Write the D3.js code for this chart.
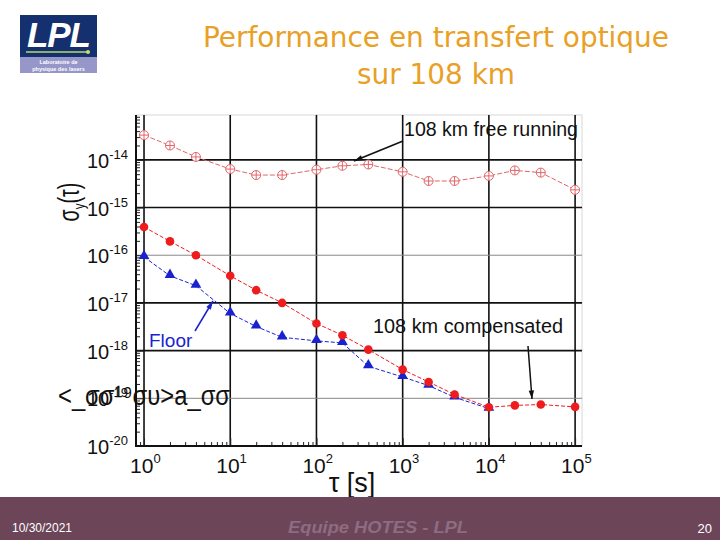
<!DOCTYPE html>
<html>
<head>
<meta charset="utf-8">
<script src="https://cdn.jsdelivr.net/npm/d3@7"></script>
<style>
  body { margin: 0; background: #fff; }
  svg { display: block; font-family: "Liberation Sans", Arial, sans-serif; }
</style>
</head>
<body>
<div id="chart"></div>
<script>
// data (tau in s, sigma_y)
const tauFree = [1, 2, 4, 10, 20, 40, 100, 200, 400, 1000, 2000, 4000, 1e4, 2e4, 4e4, 1e5];
const sigmaFree = [3.3e-14, 2.0e-14, 1.15e-14, 6.4e-15, 4.8e-15, 4.8e-15, 6.2e-15, 7.5e-15, 8.0e-15,
  5.6e-15, 3.6e-15, 3.6e-15, 4.6e-15, 6.0e-15, 5.4e-15, 2.35e-15];

const tauComp = [1, 2, 4, 10, 20, 40, 100, 200, 400, 1000, 2000, 4000, 1e4, 2e4, 4e4, 1e5];
const sigmaComp = [3.9e-16, 1.95e-16, 1.0e-16, 3.7e-17, 1.85e-17, 1.0e-17, 3.7e-18, 2.1e-18, 1.05e-18,
  4.0e-19, 2.2e-19, 1.2e-19, 6.5e-20, 7.1e-20, 7.4e-20, 6.6e-20];

const tauFloor = [1, 2, 4, 10, 20, 40, 100, 200, 400, 1000, 2000, 4000, 1e4];
const sigmaFloor = [0.92e-16, 3.7e-17, 2.3e-17, 6.0e-18, 3.2e-18, 1.9e-18, 1.6e-18, 1.45e-18,
  4.7e-19, 2.8e-19, 1.85e-19, 1.05e-19, 6.1e-20];

const xDecades = [0, 1, 2, 3, 4, 5];
const yDecades = [-20, -19, -18, -17, -16, -15, -14];
const grayGrid = [-16, -19];

const W = 720, H = 540;
const svg = d3.select("#chart").append("svg")
  .attr("width", W).attr("height", H);

// ---- header: logo + title
const logo = svg.append("g");
logo.append("rect").attr("x", 20).attr("y", 15).attr("width", 77).attr("height", 58).attr("fill", "#14306e");
logo.append("rect").attr("x", 20).attr("y", 57).attr("width", 77).attr("height", 16).attr("fill", "#9696c8");
logo.append("text").attr("x", 27).attr("y", 47)
  .attr("fill", "#fff").style("font-size", "35px").style("font-weight", "bold").style("font-style", "italic")
  .attr("textLength", 64).text("LPL");
logo.append("line").attr("x1", 26).attr("x2", 88).attr("y1", 52).attr("y2", 52)
  .attr("stroke", "#b8d86a").attr("stroke-width", 1.5);
logo.append("circle").attr("cx", 88).attr("cy", 52).attr("r", 2).attr("fill", "#c8e070");
logo.append("text").attr("x", 58.5).attr("y", 64).attr("text-anchor", "middle")
  .attr("fill", "#fff").style("font-size", "5.5px").style("font-weight", "bold").text("Laboratoire de");
logo.append("text").attr("x", 58.5).attr("y", 70.5).attr("text-anchor", "middle")
  .attr("fill", "#fff").style("font-size", "5.5px").style("font-weight", "bold").text("physique des lasers");

const titleColor = "#e8a025";
svg.append("text").attr("x", 436).attr("y", 47).attr("text-anchor", "middle")
  .attr("fill", titleColor).style("font-size", "28px").style("font-family", "'DejaVu Sans', Verdana, sans-serif")
  .attr("textLength", 466).attr("lengthAdjust", "spacingAndGlyphs")
  .text("Performance en transfert optique");
svg.append("text").attr("x", 436).attr("y", 84).attr("text-anchor", "middle")
  .attr("fill", titleColor).style("font-size", "28px").style("font-family", "'DejaVu Sans', Verdana, sans-serif")
  .attr("textLength", 158).attr("lengthAdjust", "spacingAndGlyphs")
  .text("sur 108 km");

// ---- plot
const pLeft = 136, pRight = 582, pTop = 115, pBottom = 446;
const x = d3.scaleLog().domain([Math.pow(10, -0.093), Math.pow(10, 5.08)]).range([pLeft, pRight]);
const y = d3.scaleLog().domain([1e-20, Math.pow(10, -13.06)]).range([pBottom, pTop]);

// frame
svg.append("rect").attr("x", pLeft).attr("y", pTop).attr("width", pRight - pLeft).attr("height", pBottom - pTop)
  .attr("fill", "none").attr("stroke", "#d8d8d8").attr("stroke-width", 1);

// grid
svg.append("g").selectAll("line").data(xDecades).join("line")
  .attr("x1", d => x(Math.pow(10, d))).attr("x2", d => x(Math.pow(10, d)))
  .attr("y1", pTop).attr("y2", pBottom)
  .attr("stroke", "#111").attr("stroke-width", 1.6);
svg.append("g").selectAll("line").data(yDecades.slice(1)).join("line")
  .attr("x1", pLeft).attr("x2", pRight)
  .attr("y1", d => y(Math.pow(10, d))).attr("y2", d => y(Math.pow(10, d)))
  .attr("stroke", d => grayGrid.includes(d) ? "#888" : "#111")
  .attr("stroke-width", d => grayGrid.includes(d) ? 1 : 1.6);

// axes with inward ticks
const isDecade = d => Math.abs(Math.log10(d) - Math.round(Math.log10(d))) < 1e-6;
const yAxis = d3.axisRight(y).tickSize(4).tickFormat("").ticks(40);
const yAx = svg.append("g").attr("transform", `translate(${pLeft},0)`).call(yAxis);
yAx.select(".domain").remove();
yAx.selectAll(".tick line").attr("x2", d => isDecade(d) ? 8 : 4).attr("stroke", "#222");
const xAxis = d3.axisTop(x).tickSize(4).tickFormat("").ticks(40);
const xAx = svg.append("g").attr("transform", `translate(0,${pBottom})`).call(xAxis);
xAx.select(".domain").remove();
xAx.selectAll(".tick line").attr("y2", d => isDecade(d) ? -8 : -4).attr("stroke", "#222");
svg.append("line").attr("x1", pLeft).attr("x2", pLeft).attr("y1", pTop).attr("y2", pBottom + 1)
  .attr("stroke", "#111").attr("stroke-width", 2);
svg.append("line").attr("x1", pLeft - 1).attr("x2", pRight).attr("y1", pBottom).attr("y2", pBottom)
  .attr("stroke", "#111").attr("stroke-width", 2);

// tick labels
const yLab = svg.append("g").selectAll("text").data(yDecades).join("text")
  .attr("x", 128).attr("y", d => y(Math.pow(10, d)) + 8)
  .attr("text-anchor", "end").attr("fill", "#111").style("font-size", "20px");
yLab.append("tspan").text("10");
yLab.append("tspan").attr("dy", -9).style("font-size", "13px").text(d => "-" + Math.abs(d));

const xLab = svg.append("g").selectAll("text").data(xDecades).join("text")
  .attr("x", d => x(Math.pow(10, d)) - 14).attr("y", 473)
  .attr("fill", "#111").style("font-size", "21px");
xLab.append("tspan").text("10");
xLab.append("tspan").attr("dy", -10).style("font-size", "13px").text(d => d);

// axis titles
svg.append("text").attr("x", 352).attr("y", 492).attr("text-anchor", "middle")
  .attr("fill", "#111").style("font-size", "27px").text("τ [s]");
const yt = svg.append("text").attr("transform", "translate(79,202) rotate(-90) scale(0.68,1)")
  .attr("text-anchor", "middle").attr("fill", "#111").style("font-size", "29px");
yt.append("tspan").text("σ");
yt.append("tspan").attr("dy", 6).style("font-size", "17px").text("y");
yt.append("tspan").attr("dy", -6).text("(τ)");

// garbled overlay text seen on the slide
svg.append("text").attr("x", 58).attr("y", 405).attr("fill", "#111")
  .style("font-size", "27px").attr("textLength", 172).attr("lengthAdjust", "spacingAndGlyphs")
  .text("<_σσ¹⁹συ>a_σσ");

// series
const freeColor = "#e0666a", compColor = "#ee1c1c", floorColor = "#1a22d0";
const line = d3.line().x(d => x(d[0])).y(d => y(d[1]));
const freePts = d3.zip(tauFree, sigmaFree);
const compPts = d3.zip(tauComp, sigmaComp);
const floorPts = d3.zip(tauFloor, sigmaFloor);

svg.append("path").datum(freePts).attr("d", line).attr("fill", "none")
  .attr("stroke", freeColor).attr("stroke-width", 1).attr("stroke-dasharray", "5,2");
svg.append("path").datum(floorPts).attr("d", line).attr("fill", "none")
  .attr("stroke", floorColor).attr("stroke-width", 1).attr("stroke-dasharray", "4,2");
svg.append("path").datum(compPts).attr("d", line).attr("fill", "none")
  .attr("stroke", compColor).attr("stroke-width", 1).attr("stroke-dasharray", "4,2");

// free running markers: circle with cross
const fr = svg.append("g").selectAll("g").data(freePts).join("g")
  .attr("transform", d => `translate(${x(d[0])},${y(d[1])})`)
  .attr("stroke", freeColor).attr("stroke-width", 1).attr("fill", "#fff");
fr.append("circle").attr("r", 4.5);
fr.append("line").attr("x1", -4.5).attr("x2", 4.5);
fr.append("line").attr("y1", -4.5).attr("y2", 4.5);

// floor triangles
svg.append("g").selectAll("path").data(floorPts).join("path")
  .attr("d", d3.symbol(d3.symbolTriangle, 50))
  .attr("transform", d => `translate(${x(d[0])},${y(d[1]) - 1})`)
  .attr("fill", floorColor);

// compensated dots
svg.append("g").selectAll("circle").data(compPts).join("circle")
  .attr("cx", d => x(d[0])).attr("cy", d => y(d[1])).attr("r", 4.3)
  .attr("fill", compColor);

// annotations
function arrow(x1, y1, x2, y2, color) {
  svg.append("line").attr("x1", x1).attr("y1", y1).attr("x2", x2).attr("y2", y2)
    .attr("stroke", color).attr("stroke-width", 1.5);
  const a = Math.atan2(y2 - y1, x2 - x1), L = 9, w = 0.3;
  svg.append("path")
    .attr("d", `M${x2},${y2}L${x2 - L * Math.cos(a - w)},${y2 - L * Math.sin(a - w)}L${x2 - L * Math.cos(a + w)},${y2 - L * Math.sin(a + w)}Z`)
    .attr("fill", color);
}
svg.append("text").attr("x", 404).attr("y", 136).attr("fill", "#111").style("font-size", "20px")
  .attr("textLength", 174).attr("lengthAdjust", "spacingAndGlyphs").text("108 km free running");
arrow(403, 141, 354, 161, "#111");
svg.append("text").attr("x", 373).attr("y", 333).attr("fill", "#111").style("font-size", "20px")
  .attr("textLength", 190).attr("lengthAdjust", "spacingAndGlyphs").text("108 km compensated");
arrow(528, 346, 532, 399, "#111");
svg.append("text").attr("x", 149).attr("y", 347).attr("fill", floorColor).style("font-size", "19px")
  .text("Floor");
arrow(195, 331, 213, 301, floorColor);

// ---- footer
svg.append("rect").attr("x", 0).attr("y", 497).attr("width", W).attr("height", 43).attr("fill", "#6c4559");
svg.append("text").attr("x", 12).attr("y", 532).attr("fill", "#fff")
  .style("font-size", "13px").attr("textLength", 60).attr("lengthAdjust", "spacingAndGlyphs").text("10/30/2021");
svg.append("text").attr("x", 378).attr("y", 533).attr("text-anchor", "middle").attr("fill", "#8e6c81")
  .style("font-size", "17px").style("font-style", "italic").style("font-weight", "bold")
  .attr("textLength", 180).attr("lengthAdjust", "spacingAndGlyphs").text("Equipe HOTES - LPL");
svg.append("text").attr("x", 712).attr("y", 533).attr("text-anchor", "end").attr("fill", "#fff")
  .style("font-size", "13px").text("20");
</script>
</body>
</html>
